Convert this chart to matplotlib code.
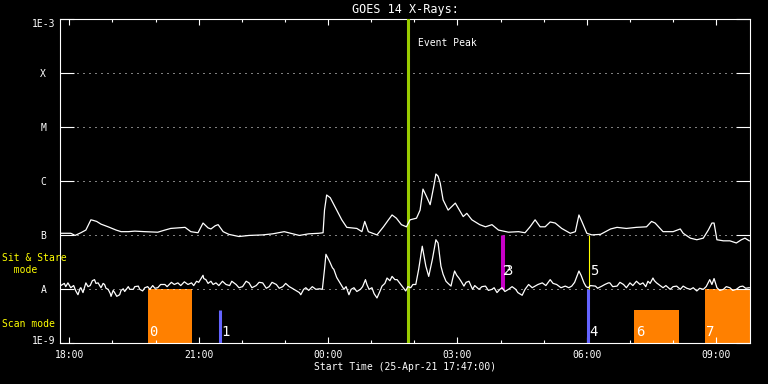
import numpy as np
import matplotlib
matplotlib.use('Agg')
import matplotlib.pyplot as plt
import matplotlib.dates as mdates
import matplotlib.transforms as mtransforms
from matplotlib.ticker import NullLocator

plt.rcParams['font.family'] = 'DejaVu Sans Mono'

# GOES 14 x-ray flux, minutes after 25-Apr-21 17:47, values as log10(W/m^2)
start = np.datetime64('2021-04-25T17:47')
end = np.datetime64('2021-04-26T09:47')

long_min = [1, 8, 15, 21, 29, 36, 43, 46, 51, 57,
            67, 78, 85, 95, 104, 118, 136, 146, 154, 174,
            182, 192, 199, 206, 210, 216, 220, 227, 235, 249,
            263, 282, 296, 312, 321, 333, 346, 360, 366, 368,
            371, 376, 385, 392, 399, 413, 420, 424, 429, 441,
            450, 457, 462, 468, 475, 482, 487, 496, 501, 505,
            510, 515, 520, 523, 526, 529, 533, 540, 550, 557,
            561, 566, 573, 584, 592, 601, 610, 624, 638, 647,
            654, 661, 668, 675, 682, 689, 698, 710, 717, 722,
            726, 733, 740, 752, 759, 766, 775, 788, 802, 816,
            823, 828, 839, 853, 863, 867, 877, 886, 895, 902,
            907, 910, 914, 923, 932, 941, 948, 953, 959]
long_log = [-6.97, -6.97, -6.97, -7.01, -6.96, -6.91, -6.72, -6.73, -6.75, -6.80,
            -6.85, -6.91, -6.94, -6.94, -6.93, -6.94, -6.95, -6.91, -6.88, -6.86,
            -6.94, -6.96, -6.78, -6.87, -6.89, -6.83, -6.81, -6.94, -6.99, -7.03,
            -7.01, -7.00, -6.98, -6.94, -6.97, -7.01, -6.98, -6.97, -6.96, -6.54,
            -6.26, -6.31, -6.54, -6.72, -6.86, -6.88, -6.94, -6.75, -6.94, -7.00,
            -6.85, -6.72, -6.63, -6.69, -6.81, -6.85, -6.72, -6.69, -6.54, -6.15,
            -6.29, -6.44, -6.10, -5.87, -5.91, -6.04, -6.35, -6.54, -6.41, -6.57,
            -6.66, -6.60, -6.72, -6.81, -6.85, -6.81, -6.91, -6.95, -6.94, -6.96,
            -6.85, -6.72, -6.85, -6.85, -6.76, -6.78, -6.88, -6.97, -6.94, -6.63,
            -6.75, -6.97, -7.00, -6.99, -6.94, -6.89, -6.86, -6.88, -6.86, -6.85,
            -6.75, -6.78, -6.94, -6.94, -6.89, -6.97, -7.06, -7.09, -7.06, -6.91,
            -6.78, -6.78, -7.09, -7.11, -7.11, -7.15, -7.09, -7.06, -7.11]

short_min = [1, 6, 8, 11, 15, 19, 22, 25, 28, 29,
             32, 36, 39, 42, 45, 48, 50, 53, 56, 57,
             60, 62, 64, 67, 70, 71, 74, 76, 79, 83,
             85, 88, 90, 95, 97, 102, 104, 109, 111, 115,
             118, 122, 125, 129, 132, 136, 140, 146, 149, 155,
             159, 164, 168, 173, 178, 183, 186, 190, 193, 199,
             200, 203, 206, 210, 213, 217, 221, 226, 231, 236,
             239, 245, 249, 254, 259, 263, 267, 273, 277, 282,
             287, 291, 295, 301, 305, 310, 314, 319, 323, 328,
             333, 335, 339, 342, 346, 351, 356, 361, 365, 368,
             370, 375, 379, 381, 385, 391, 395, 398, 402, 405,
             409, 413, 418, 421, 425, 427, 430, 434, 437, 441,
             445, 448, 452, 455, 459, 462, 466, 469, 473, 476,
             481, 484, 488, 491, 495, 499, 504, 509, 513, 518,
             523, 526, 530, 533, 537, 540, 544, 546, 549, 552,
             555, 558, 562, 565, 569, 574, 577, 583, 587, 592,
             596, 601, 604, 608, 612, 615, 619, 624, 629, 634,
             637, 643, 647, 652, 657, 661, 665, 671, 676, 682,
             686, 691, 697, 703, 708, 712, 716, 722, 725, 729,
             732, 735, 738, 745, 748, 754, 758, 763, 765, 769,
             775, 779, 784, 788, 793, 797, 802, 807, 811, 815,
             818, 821, 825, 827, 830, 835, 839, 843, 849, 853,
             858, 863, 867, 872, 877, 881, 886, 890, 895, 899,
             902, 904, 907, 910, 914, 918, 923, 927, 932, 936,
             941, 946, 950, 954, 959]
short_log = [-7.94, -7.90, -7.96, -7.89, -7.98, -7.94, -8.04, -8.11, -7.99, -7.98,
             -8.07, -7.89, -7.96, -7.94, -7.85, -7.83, -7.90, -7.89, -7.96, -7.98,
             -7.90, -7.92, -7.99, -8.01, -8.09, -8.14, -8.03, -8.07, -8.14, -8.11,
             -8.03, -8.00, -8.05, -7.96, -8.01, -8.01, -7.96, -7.95, -8.01, -8.04,
             -7.98, -7.96, -8.01, -7.94, -7.99, -7.98, -7.92, -7.92, -7.96, -7.88,
             -7.92, -7.89, -7.94, -7.87, -7.92, -7.89, -7.94, -7.86, -7.88, -7.75,
             -7.81, -7.83, -7.90, -7.86, -7.92, -7.89, -7.94, -7.86, -7.92, -7.94,
             -7.86, -7.92, -7.98, -7.96, -7.86, -7.89, -7.98, -7.94, -7.88, -7.89,
             -7.99, -7.96, -7.88, -7.92, -7.99, -7.96, -7.90, -7.96, -7.99, -8.03,
             -8.07, -8.11, -8.01, -7.98, -8.03, -7.96, -8.01, -8.00, -8.01, -7.64,
             -7.36, -7.49, -7.61, -7.64, -7.79, -7.92, -8.01, -7.96, -8.11, -8.01,
             -7.98, -8.05, -8.01, -7.96, -7.83, -7.92, -8.01, -7.98, -8.09, -8.17,
             -8.05, -7.95, -7.90, -7.80, -7.85, -7.77, -7.83, -7.83, -7.90, -7.95,
             -8.04, -7.96, -7.98, -7.92, -7.92, -7.64, -7.21, -7.58, -7.77, -7.46,
             -7.09, -7.15, -7.58, -7.73, -7.86, -7.90, -7.95, -7.83, -7.67, -7.75,
             -7.80, -7.86, -7.95, -7.88, -7.86, -8.01, -7.94, -8.01, -7.96, -7.95,
             -8.03, -8.01, -7.98, -8.07, -8.01, -7.98, -8.05, -8.01, -7.96, -8.01,
             -8.07, -8.12, -8.01, -7.92, -7.98, -7.95, -7.92, -7.89, -7.94, -7.83,
             -7.90, -7.92, -7.98, -7.95, -7.98, -7.95, -7.88, -7.67, -7.75, -7.89,
             -7.96, -7.98, -7.94, -7.95, -7.99, -7.95, -7.92, -7.89, -7.89, -7.96,
             -7.95, -7.88, -7.92, -7.98, -7.89, -7.94, -7.86, -7.92, -7.89, -7.96,
             -7.86, -7.90, -7.80, -7.85, -7.89, -7.94, -7.98, -7.94, -8.01, -7.96,
             -7.95, -8.01, -7.95, -7.99, -8.01, -7.98, -8.04, -7.99, -8.01, -7.96,
             -7.88, -7.83, -7.92, -7.81, -7.98, -8.03, -8.01, -7.96, -7.98, -8.03,
             -8.01, -7.96, -7.95, -7.99, -7.98]

# scan-mode observations (orange blocks)
bar_labels = ['0', '6', '7']
bar_start = ['2021-04-25T19:49', '2021-04-26T07:06', '2021-04-26T08:44']
bar_end = ['2021-04-25T20:51', '2021-04-26T08:08', '2021-04-26T09:47']
bar_top = [1e-8, 4e-9, 1e-8]

# short observations drawn as coloured ticks
line_labels = ['1', '2', '3', '4', '5']
line_time = ['2021-04-25T21:29', '2021-04-26T04:02', '2021-04-26T04:03',
             '2021-04-26T06:02', '2021-04-26T06:03']
line_low = [1e-9, 1e-8, 1e-8, 1e-9, 1e-8]
line_high = [4e-9, 1e-7, 1e-7, 1e-8, 1e-7]
line_color = ['#6464ff', '#c800c8', '#c800c8', '#6464ff', '#ffff00']
line_width = [2.2, 2.2, 2.2, 2.2, 0.8]
line_row = [1.6e-9, 2.1e-8, 2.1e-8, 1.6e-9, 2.1e-8]

peak_time = '2021-04-26T01:51'

ylevels = [1e-9, 1e-8, 1e-7, 1e-6, 1e-5, 1e-4, 1e-3]
ylabels = ['1E-9', 'A', 'B', 'C', 'M', 'X', '1E-3']


def to_time(mins):
    return start + np.array(mins).astype('timedelta64[m]')


fig = plt.figure(figsize=(7.68, 3.84), dpi=100, facecolor='black')
ax = fig.add_axes([60 / 768, 41.3 / 384, 690 / 768, 323.4 / 384])
ax.set_facecolor('black')

# orange scan blocks
for lab, s, e, top in zip(bar_labels, bar_start, bar_end, bar_top):
    x0 = mdates.date2num(np.datetime64(s))
    x1 = mdates.date2num(np.datetime64(e))
    ax.bar(x0, top - 1e-9, width=x1 - x0, bottom=1e-9, align='edge',
           color='#ff8000', zorder=1)
    ax.annotate(lab, (x0, 1.6e-9), xytext=(1, 0), textcoords='offset points',
                color='white', fontsize=10, va='center', ha='left', zorder=5)

# dotted level lines
for lv in ylevels[1:-1]:
    ax.axhline(lv, xmin=0.024, xmax=0.978, color='white', lw=0.72,
               ls=(0, (1, 5)), zorder=2)

ax.plot(to_time(long_min), 10 ** np.array(long_log), color='white', lw=0.9, zorder=4)
ax.plot(to_time(short_min), 10 ** np.array(short_log), color='white', lw=0.9, zorder=4)

ax.vlines([np.datetime64(t) for t in line_time], line_low, line_high,
          colors=line_color, linewidths=line_width, zorder=3)
for i, lab in enumerate(line_labels):
    ax.annotate(lab, (mdates.date2num(np.datetime64(line_time[i])), line_row[i]),
                xytext=(1, 0), textcoords='offset points', color='white',
                fontsize=10, va='center', ha='left', zorder=5)

ax.axvline(np.datetime64(peak_time), color='#99cc00', lw=2.2, zorder=3)
ax.annotate('Event Peak', (mdates.date2num(np.datetime64(peak_time)), 1),
            xycoords=('data', 'axes fraction'), xytext=(7, -17),
            textcoords='offset points', color='white', fontsize=7,
            va='center', ha='left')

ax.set_yscale('log')
ax.set_ylim(1e-9, 1e-3)
ax.set_xlim(mdates.date2num(start), mdates.date2num(end))
ax.set_yticks(ylevels)
ax.set_yticklabels(ylabels)
ax.yaxis.set_minor_locator(NullLocator())
for t in ax.get_yticklabels():
    t.set_horizontalalignment('center')

ax.xaxis.set_major_locator(mdates.HourLocator(byhour=[0, 3, 6, 9, 12, 15, 18, 21]))
ax.xaxis.set_minor_locator(mdates.HourLocator())
ax.xaxis.set_major_formatter(mdates.DateFormatter('%H:%M'))

ax.tick_params(axis='y', which='major', direction='in', length=10, width=0.8,
               colors='white', left=True, right=True, labelsize=7, pad=12)
ax.tick_params(axis='x', which='major', direction='in', length=4.5, width=0.8,
               colors='white', top=True, bottom=True, labelsize=7, pad=5)
ax.tick_params(axis='x', which='minor', direction='in', length=2.5, width=0.8,
               colors='white', top=True, bottom=True)
for sp in ax.spines.values():
    sp.set_color('white')
    sp.set_linewidth(0.8)

# end labels sit a little inside the axis range, as in the original
ylab = ax.get_yticklabels()
ylab[0].set_transform(ylab[0].get_transform()
                      + mtransforms.ScaledTranslation(0, 3 / 100, fig.dpi_scale_trans))
ylab[-1].set_transform(ylab[-1].get_transform()
                       + mtransforms.ScaledTranslation(0, -4 / 100, fig.dpi_scale_trans))

ax.set_title('GOES 14 X-Rays:', color='white', fontsize=8.5, pad=4.5)
ax.set_xlabel('Start Time (25-Apr-21 17:47:00)', color='white', fontsize=7, labelpad=2)

fig.text(2 / 768, 1 - 264 / 384, 'Sit & Stare\n  mode', color='#ffff00',
         fontsize=7, ha='left', va='center')
fig.text(2 / 768, 1 - 324 / 384, 'Scan mode', color='#ffff00',
         fontsize=7, ha='left', va='center')

fig.savefig('out.png', dpi=100, facecolor='black')
